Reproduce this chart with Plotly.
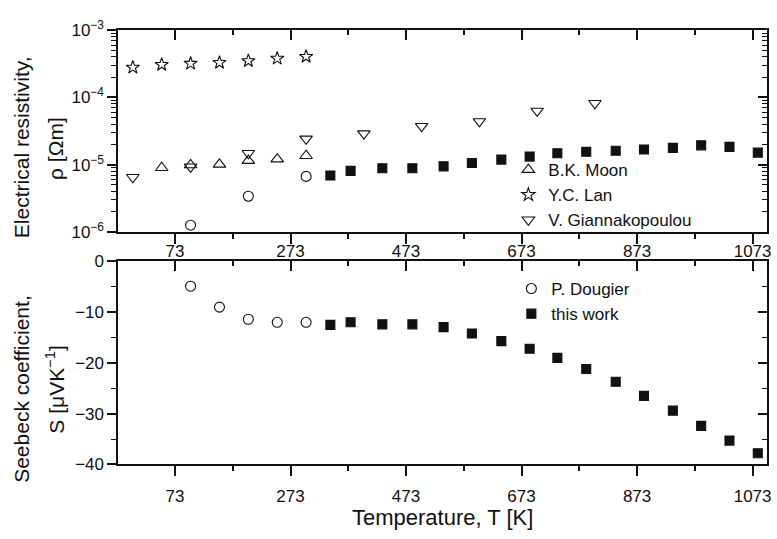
import plotly.graph_objects as go

# ---- Electrical resistivity (Ohm m) ----
T_moon = [50, 100, 150, 200, 250, 300]
rho_moon = [9.0e-6, 9.9e-6, 1.01e-5, 1.15e-5, 1.21e-5, 1.36e-5]

T_lan = [0, 50, 100, 150, 200, 250, 300]
rho_lan = [2.8e-4, 3.08e-4, 3.2e-4, 3.3e-4, 3.5e-4, 3.8e-4, 4.05e-4]

T_gian = [0, 100, 200, 300, 400, 500, 600, 700, 800]
rho_gian = [6.5e-6, 9.3e-6, 1.48e-5, 2.42e-5, 2.9e-5, 3.74e-5, 4.4e-5, 6.3e-5, 8.2e-5]

T_doug_rho = [100, 200, 300]
rho_doug = [1.26e-6, 3.4e-6, 6.7e-6]

T_work = [342, 377, 432, 484, 538, 587, 638, 687, 735, 785, 836, 885, 935, 984, 1033, 1082]
rho_work = [6.9e-6, 8.1e-6, 8.85e-6, 8.85e-6, 9.45e-6, 1.06e-5, 1.19e-5, 1.32e-5,
            1.48e-5, 1.56e-5, 1.61e-5, 1.68e-5, 1.78e-5, 1.94e-5, 1.84e-5, 1.51e-5]

# ---- Seebeck coefficient (uV/K) ----
T_doug_S = [100, 150, 200, 250, 300]
S_doug = [-4.9, -9.0, -11.4, -12.0, -12.0]

S_work = [-12.5, -12.0, -12.4, -12.4, -12.95, -14.2, -15.7, -17.2,
          -19.0, -21.2, -23.7, -26.5, -29.4, -32.4, -35.3, -37.8]

# ---- axis ticks ----
T_major = [73, 273, 473, 673, 873, 1073]
T_minor = [173, 373, 573, 773, 973]
rho_major = [1e-6, 1e-5, 1e-4, 1e-3]
rho_labels = ["10<sup>\u22126</sup>", "10<sup>\u22125</sup>", "10<sup>\u22124</sup>", "10<sup>\u22123</sup>"]
rho_minor = [k * 10.0 ** e for e in (-6, -5, -4) for k in range(2, 10)]

W, H = 777, 539
FONT = "Liberation Sans, Arial, sans-serif"
BLACK = "#111111"

def px_x(p):
    return p / W

def px_y(p):
    return 1 - p / H

X_DOM = [px_x(119), px_x(771)]
Y_TOP = [px_y(229.3), px_y(19)]
Y_BOT = [px_y(471.7), px_y(260)]
T_RANGE = [-25, 1098]

fig = go.Figure()

def add(x, y, name, symbol, size, xa, ya, legend=None):
    fig.add_trace(go.Scatter(
        x=x, y=y, mode="markers", name=name,
        xaxis=xa, yaxis=ya,
        showlegend=legend is not None,
        legend=legend if legend else "legend",
        marker=dict(symbol=symbol, size=size, color=BLACK,
                    line=dict(color=BLACK, width=1.1)),
    ))

# top panel
add(T_moon, rho_moon, "B.K. Moon", "triangle-up-open", 11, "x", "y", "legend")
add(T_lan, rho_lan, "Y.C. Lan", "star-open", 10, "x", "y", "legend")
add(T_gian, rho_gian, "V. Giannakopoulou", "triangle-down-open", 11, "x", "y", "legend")
add(T_doug_rho, rho_doug, "P. Dougier", "circle-open", 10, "x", "y")
add(T_work, rho_work, "this work", "square", 9, "x", "y")

# bottom panel
add(T_doug_S, S_doug, "P. Dougier", "circle-open", 10, "x2", "y2", "legend2")
add(T_work, S_work, "this work", "square", 9, "x2", "y2", "legend2")

# empty traces so the inward-tick overlay axes are drawn
for xa, ya in (("x3", "y3"), ("x4", "y4")):
    fig.add_trace(go.Scatter(x=[], y=[], xaxis=xa, yaxis=ya, showlegend=False))

tickfont = dict(family=FONT, size=17, color=BLACK)

def main_x(anchor, standoff):
    return dict(domain=X_DOM, anchor=anchor, range=T_RANGE, tickmode="array",
                tickvals=T_major, ticks="outside", ticklen=10, tickwidth=1.5,
                tickcolor=BLACK, ticklabelstandoff=standoff,
                minor=dict(tickmode="array", tickvals=T_minor,
                           ticks="outside", ticklen=5, tickwidth=1.5,
                           tickcolor=BLACK),
                showline=True, linewidth=2, linecolor=BLACK, mirror=True,
                showgrid=False, zeroline=False, tickfont=tickfont)

def inner_x(over, anchor):
    return dict(overlaying=over, anchor=anchor, side="top", range=T_RANGE,
                tickmode="array", tickvals=T_major, ticks="inside", ticklen=10,
                tickwidth=1.5, tickcolor=BLACK,
                minor=dict(tickmode="array", tickvals=T_minor, ticks="inside",
                           ticklen=5, tickwidth=1.5, tickcolor=BLACK),
                showticklabels=False, showline=False, showgrid=False, zeroline=False)

legend_font = dict(family=FONT, size=17, color=BLACK)

fig.update_layout(
    width=W, height=H,
    margin=dict(l=0, r=0, t=0, b=0),
    paper_bgcolor="white", plot_bgcolor="white",
    font=dict(family=FONT, color=BLACK),
    xaxis=main_x("y", -7),
    xaxis2=main_x("y2", 5),
    xaxis3=inner_x("x", "y"),
    xaxis4=inner_x("x2", "y2"),
    yaxis=dict(domain=Y_TOP, anchor="x", type="log", range=[-6, -3],
               tickmode="array", tickvals=rho_major, ticktext=rho_labels,
               ticks="outside", ticklen=9, tickwidth=1.5, tickcolor=BLACK,
               minor=dict(tickmode="array", tickvals=rho_minor, ticks="outside",
                          ticklen=5, tickwidth=1.2, tickcolor=BLACK),
               showline=True, linewidth=2, linecolor=BLACK, mirror=True,
               showgrid=False, zeroline=False, tickfont=tickfont),
    yaxis3=dict(overlaying="y", anchor="x", side="right", type="log", range=[-6, -3],
                tickmode="array", tickvals=rho_major, ticks="inside", ticklen=9,
                tickwidth=1.5, tickcolor=BLACK,
                minor=dict(tickmode="array", tickvals=rho_minor, ticks="inside",
                           ticklen=5, tickwidth=1.2, tickcolor=BLACK),
                showticklabels=False, showline=False, showgrid=False, zeroline=False),
    yaxis2=dict(domain=Y_BOT, anchor="x2", range=[-40, 0], tickmode="linear",
                tick0=0, dtick=10, ticks="outside", ticklen=9, tickwidth=1.5,
                tickcolor=BLACK,
                minor=dict(dtick=5, ticks="outside", ticklen=5, tickwidth=1.2,
                           tickcolor=BLACK),
                showline=True, linewidth=2, linecolor=BLACK, mirror=True,
                showgrid=False, zeroline=False, tickfont=tickfont),
    yaxis4=dict(overlaying="y2", anchor="x2", side="right", range=[-40, 0],
                tickmode="linear", tick0=0, dtick=10, ticks="inside", ticklen=9,
                tickwidth=1.5, tickcolor=BLACK,
                minor=dict(dtick=5, ticks="inside", ticklen=5, tickwidth=1.2,
                           tickcolor=BLACK),
                showticklabels=False, showline=False, showgrid=False, zeroline=False),
    legend=dict(x=px_x(511), y=px_y(146), xanchor="left", yanchor="top",
                bgcolor="rgba(0,0,0,0)", borderwidth=0, font=legend_font),
    legend2=dict(x=px_x(514), y=px_y(270), xanchor="left", yanchor="top",
                 bgcolor="rgba(0,0,0,0)", borderwidth=0, font=legend_font),
)

titles = [
    ("Electrical resistivity,", 21, 141, -90, 21),
    ("\u03c1 [\u03a9m]", 55, 142, -90, 21),
    ("Seebeck coefficient,", 22, 393, -90, 21),
    ("S [\u03bcVK<sup>\u22121</sup>]", 55, 394, -90, 21),
    ("Temperature, T [K]", 445, 527, 0, 22),
]
for text, x, y, ang, size in titles:
    fig.add_annotation(text=text, x=px_x(x), y=px_y(y), xref="paper", yref="paper",
                       xanchor="center", yanchor="middle", textangle=ang,
                       showarrow=False, font=dict(family=FONT, size=size, color=BLACK))

fig.write_html("out.html")
